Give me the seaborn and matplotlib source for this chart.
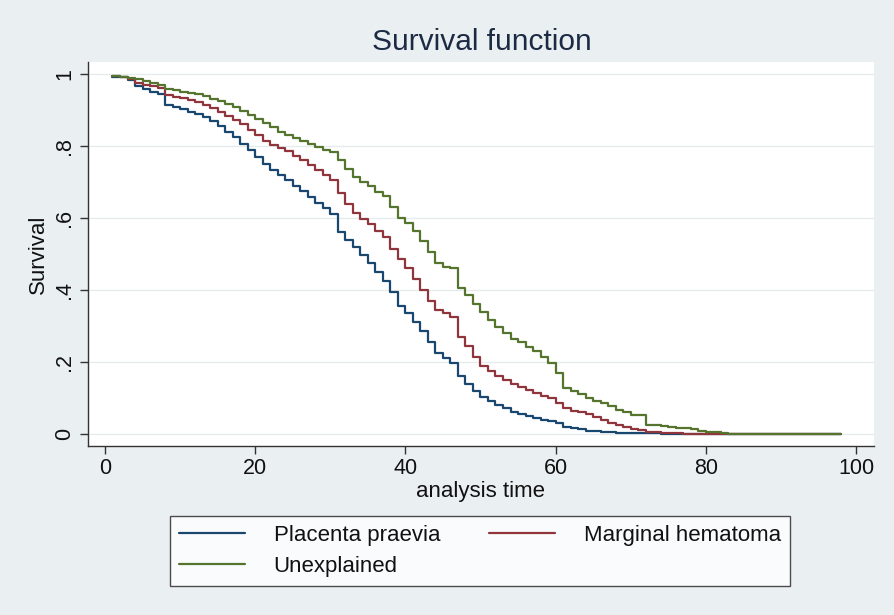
import numpy as np
import pandas as pd
import matplotlib
matplotlib.use("Agg")
import matplotlib.pyplot as plt
import seaborn as sns
from matplotlib.lines import Line2D

# ---- data ----
times = list(range(1, 85)) + [98]

placenta = [0.992, 0.990, 0.983, 0.965, 0.958, 0.950, 0.943, 0.914, 0.908, 0.902,
            0.895, 0.888, 0.880, 0.868, 0.856, 0.840, 0.824, 0.806, 0.788, 0.768,
            0.750, 0.732, 0.718, 0.705, 0.690, 0.675, 0.658, 0.642, 0.628, 0.612,
            0.560, 0.540, 0.520, 0.498, 0.476, 0.450, 0.425, 0.395, 0.355, 0.335,
            0.310, 0.285, 0.255, 0.225, 0.210, 0.198, 0.160, 0.140, 0.120, 0.104,
            0.092, 0.082, 0.072, 0.062, 0.055, 0.050, 0.045, 0.040, 0.036, 0.030,
            0.020, 0.016, 0.013, 0.010, 0.008, 0.006, 0.005, 0.004, 0.003, 0.003,
            0.002, 0.002, 0.002, 0.001, 0.001, 0.001, 0.001, 0.0, 0.0, 0.0,
            0.0, 0.0, 0.0, 0.0, 0.0]

marginal = [0.993, 0.990, 0.985, 0.975, 0.970, 0.966, 0.960, 0.942, 0.937, 0.932,
            0.927, 0.921, 0.914, 0.904, 0.895, 0.883, 0.872, 0.860, 0.845, 0.830,
            0.815, 0.803, 0.795, 0.785, 0.772, 0.760, 0.746, 0.733, 0.720, 0.706,
            0.670, 0.640, 0.615, 0.598, 0.582, 0.565, 0.548, 0.515, 0.485, 0.460,
            0.430, 0.400, 0.370, 0.344, 0.335, 0.326, 0.270, 0.245, 0.215, 0.190,
            0.175, 0.162, 0.150, 0.140, 0.132, 0.123, 0.115, 0.107, 0.100, 0.085,
            0.072, 0.065, 0.060, 0.057, 0.047, 0.038, 0.030, 0.025, 0.020, 0.015,
            0.011, 0.007, 0.005, 0.004, 0.003, 0.002, 0.0015, 0.001, 0.0008, 0.0005,
            0.0003, 0.0001, 0.0, 0.0, 0.0]

unexplained = [0.995, 0.992, 0.988, 0.985, 0.980, 0.975, 0.970, 0.958, 0.954, 0.950,
               0.946, 0.943, 0.938, 0.930, 0.924, 0.916, 0.908, 0.898, 0.885, 0.875,
               0.865, 0.852, 0.840, 0.830, 0.822, 0.814, 0.806, 0.798, 0.790, 0.782,
               0.760, 0.735, 0.715, 0.700, 0.688, 0.673, 0.660, 0.630, 0.600, 0.585,
               0.565, 0.535, 0.505, 0.475, 0.465, 0.460, 0.405, 0.385, 0.360, 0.340,
               0.318, 0.298, 0.280, 0.265, 0.255, 0.243, 0.230, 0.215, 0.198, 0.170,
               0.128, 0.120, 0.110, 0.100, 0.093, 0.085, 0.077, 0.068, 0.060, 0.054,
               0.052, 0.025, 0.024, 0.022, 0.020, 0.018, 0.016, 0.013, 0.010, 0.007,
               0.005, 0.003, 0.001, 0.0, 0.0]

labels = ["Placenta praevia", "Marginal hematoma", "Unexplained"]
colors = ["#1a476f", "#90353b", "#55752f"]
yticks = [0, 0.2, 0.4, 0.6, 0.8, 1]
ytick_labels = ["0", ".2", ".4", ".6", ".8", "1"]
xticks = [0, 20, 40, 60, 80, 100]

df = pd.concat([
    pd.DataFrame({"time": times, "survival": vals, "group": lab})
    for vals, lab in zip([placenta, marginal, unexplained], labels)
], ignore_index=True)

# ---- figure ----
sns.set_theme(style="white")
plt.rcParams["font.family"] = ["Liberation Sans", "DejaVu Sans"]

bg = "#eaf0f2"
fig = plt.figure(figsize=(8.95, 6.15), dpi=100, facecolor=bg)
ax = fig.add_axes([88 / 895, 1 - 446 / 615, (874 - 88) / 895, (446 - 62) / 615])
ax.set_facecolor("white")

for yv in yticks:
    ax.axhline(yv, color="#e6ecee", lw=1.0, zorder=0)

sns.lineplot(data=df, x="time", y="survival", hue="group", hue_order=labels,
             palette=colors, estimator=None, drawstyle="steps-post",
             lw=1.6, ax=ax, legend=False)

ax.set_xlim(-2.26, 102.4)
ax.set_ylim(-0.033, 1.033)

ax.set_xticks(xticks)
ax.set_xticklabels([str(x) for x in xticks], fontsize=15.5, color="#111111")
ax.set_yticks(yticks)
ax.set_yticklabels(ytick_labels, fontsize=15.5, rotation=90, va="center", color="#111111")
ax.tick_params(axis="both", which="major", direction="out", length=6, width=1,
               color="#333333", pad=3, bottom=True, left=True)

for s in ["top", "right"]:
    ax.spines[s].set_visible(False)
for s in ["left", "bottom"]:
    ax.spines[s].set_color("#333333")
    ax.spines[s].set_linewidth(1.0)

ax.set_xlabel("analysis time", fontsize=16, color="#111111", labelpad=1)
ax.set_ylabel("Survival", fontsize=16, color="#111111", labelpad=4)

fig.text(482 / 895, 1 - 42 / 615, "Survival function", ha="center", va="center",
         fontsize=21.5, color="#1c2a44")

# legend, row-major ordering like the reference
handles = [Line2D([], [], color=c, lw=1.6) for c in colors]
order = [0, 2, 1]
leg = fig.legend([handles[i] for i in order], [labels[i] for i in order],
                 loc="center", bbox_to_anchor=(480 / 895, 1 - 551 / 615),
                 ncol=2, fontsize=16, frameon=True, fancybox=False,
                 edgecolor="#222222", facecolor="white", handlelength=2.95,
                 handletextpad=1.3, columnspacing=2.2, borderpad=0.4,
                 labelspacing=0.45, borderaxespad=0)
leg.get_frame().set_linewidth(1.0)
for t in leg.get_texts():
    t.set_color("#111111")

fig.savefig("out.png", dpi=100, facecolor=bg)
